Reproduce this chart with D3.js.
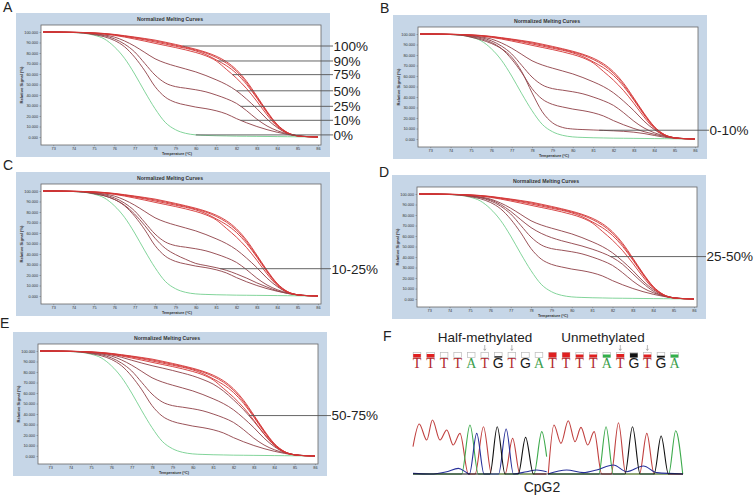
<!DOCTYPE html>
<html>
<head>
<meta charset="utf-8">
<script src="https://cdn.jsdelivr.net/npm/d3@7"></script>
<style>
  body { margin: 0; background: #fff; }
  svg { display: block; font-family: Arial, "Liberation Sans", sans-serif; }
</style>
</head>
<body>
<svg id="fig" width="756" height="497"></svg>
<script>
// ---- melting curves, relative signal (%) every 0.5 °C ----
var temps = [72.5,73,73.5,74,74.5,75,75.5,76,76.5,77,77.5,78,78.5,79,79.5,80,80.5,81,81.5,82,82.5,83,83.5,84,84.5,85,85.5,86];

var std0   = [100,100,99.8,99.5,98.8,97,93.5,86,75,60,43,27,14,7,3.5,2,1.5,1.2,1,0.8,0.7,0.6,0.5,0.4,0.3,0.2,0.1,0];
var std10  = [100,100,99.8,99.5,99,97.5,95.5,92,86,76,63,48,38,33,30.5,28.5,27,25,22,17.5,13.5,10,7,4.5,2.5,1,0.4,0];
var std25  = [100,100,99.8,99.6,99.2,98,96.5,93.5,88.5,81,70,59,51.5,48,46.5,45,43,40,36.5,32,25,17,10.5,6,3,1.2,0.4,0];
var std50  = [100,100,99.8,99.6,99.3,98.5,97.2,95.2,91.5,86.5,80.5,74.5,70.5,67.5,64.8,62,58.5,54.5,50,44,36,27,17,9,3.5,1.2,0.4,0];
var std75  = [100,100,99.8,99.7,99.4,98.8,98,96.8,95.2,93.3,91.3,89.2,87.2,85.2,83,80.5,77.3,72.5,64.5,56,46,34,21,10,3.5,1,0.3,0];
var std90  = [100,100,99.8,99.7,99.5,99,98.3,97.3,95.8,94.2,92.5,90.5,88.5,86.5,84.5,82,78.5,73.5,68,60.5,50,37,23,11,4,1.1,0.3,0];
var std100 = [100,100,99.9,99.7,99.5,99.2,98.6,97.7,96.5,95.2,93.8,92.3,90.3,88.2,86,83.6,80.7,77,71.8,64,53,39,24.5,12,4.3,1.2,0.3,0];
var std100b= [100,100,99.9,99.7,99.5,99.1,98.5,97.5,96.2,94.8,93.2,91.5,89.5,87.4,85.3,82.8,79.9,75.8,70.4,62.6,51.6,38,23.8,11.5,4.1,1.1,0.3,0];

var sampleB = [100,100,99.8,99.5,99,97,94.5,91,86,78,64,44,26,15.5,11,9.5,9,8.6,8.2,7.8,7.3,6.5,5.2,3.4,1.7,0.6,0.2,0];
var sampleC = [100,100,99.8,99.5,99,97.5,95.5,92,86.5,78,67,55,45.5,39.5,35,31,29,27,24.5,21,17,12.5,8.5,5,2.5,1,0.3,0];
var sampleD = [100,100,99.8,99.6,99.2,98.2,96.8,94.5,90,83.5,75.5,68,62.5,58.5,55.5,53,50.5,47.5,44,39.5,33,24,15,7.5,3,1,0.3,0];
var sampleE = [100,100,99.8,99.7,99.4,98.8,97.8,96.3,94,91.2,88.5,86,83.8,81.5,79,76.3,72.8,68.5,62,53.5,44,33,21,10.5,4,1.2,0.3,0];

var xTicks = [73,74,75,76,77,78,79,80,81,82,83,84,85,86];
var yTicks = [0,10,20,30,40,50,60,70,80,90,100];

// ---- panel F: sequence and trace ----
var bases = ['T','T','T','T','A','T','G','T','G','A','T','T','T','T','A','T','G','T','G','A'];
var baseQual = [0.7,0.7,0,0,0,0,0.25,0,0,0, 1,1,0.6,0.6,0.6,0.7,0.85,0.6,0.35,0.6];
var arrowBases = [5,7,15,17];

// trace vertices: [scan, signal]
var redLeft   = [[0,506],[23,926],[51,629],[72,1000],[100,629],[125,814],[149,537],[174,753],[205,0],[230,0],[261,876],[291,0],[341,0],[369,660],[396,0],[495,0]];
var greenLeft = [[0,0],[180,0],[211,907],[242,0],[448,0],[477,784],[495,321]];
var blueLeft  = [[0,12],[63,0],[125,43],[168,105],[199,25],[209,0],[236,753],[263,0],[317,0],[345,833],[372,0],[421,43],[458,74],[495,43]];
var blackLeft = [[0,0],[285,0],[312,876],[341,0],[390,0],[417,679],[446,0],[495,0]];
var redRight   = [[501,0],[522,907],[548,568],[575,987],[600,598],[622,864],[647,537],[671,784],[699,0],[734,0],[761,950],[788,0],[839,0],[866,753],[893,0],[1000,0]];
var greenRight = [[499,0],[688,0],[715,876],[742,0],[947,0],[973,802],[999,0]];
var blueRight  = [[499,0],[569,74],[631,25],[680,74],[742,167],[792,43],[853,148],[903,25],[1000,0]];
var blackRight = [[499,0],[785,0],[813,876],[841,0],[893,0],[919,703],[946,0],[1000,0]];

var curves = {
  std0: std0, std10: std10, std25: std25, std50: std50, std75: std75,
  std90: std90, std100: std100, std100b: std100b,
  sampleB: sampleB, sampleC: sampleC, sampleD: sampleD, sampleE: sampleE
};

var GREEN = '#74cf8e', BROWN = '#8e4046', RED = '#d33333';
var standards = [
  ['std0', GREEN], ['std10', BROWN], ['std25', BROWN], ['std50', BROWN],
  ['std75', RED], ['std90', RED], ['std100b', RED], ['std100', RED]
];

var panels = [
  { id: 'A', x: 16, y: 13, lx: 333, ly: 12, sample: null,
    labels: [['std100',79.35,'100%'],['std90',81.1,'90%'],['std75',81.8,'75%'],['std50',82,'50%'],
             ['std25',82.2,'25%'],['std10',82.2,'10%'],['std0',80,'0%']] },
  { id: 'B', x: 393, y: 15, lx: 709, ly: 13, sample: 'sampleB', labels: [['sampleB',81.3,'0-10%']] },
  { id: 'C', x: 16, y: 172, lx: 331, ly: 170, sample: 'sampleC', labels: [['sampleC',81.2,'10-25%']] },
  { id: 'D', x: 392, y: 175, lx: 706, ly: 177, sample: 'sampleD', labels: [['sampleD',81.9,'25-50%']] },
  { id: 'E', x: 13, y: 332, lx: 331, ly: 328, sample: 'sampleE', labels: [['sampleE',82.75,'50-75%']] }
];

var svg = d3.select('#fig');
var W = 314, H = 144;

function drawPanel(p) {
  var g = svg.append('g');
  g.append('text').attr('x', p.x - 13).attr('y', p.ly).attr('font-size', 14).attr('fill', '#222').text(p.id);

  g.append('rect').attr('x', p.x).attr('y', p.y).attr('width', W).attr('height', H).attr('fill', '#c6d6e7');

  var left = p.x + 25, right = p.x + W - 9, top = p.y + 12, bottom = p.y + H - 12;
  g.append('rect').attr('x', left).attr('y', top).attr('width', right - left).attr('height', bottom - top)
    .attr('fill', '#fff').attr('stroke', '#666').attr('stroke-width', 0.8);

  var x = d3.scaleLinear().domain([72.4, 86.15]).range([left, right]);
  var y = d3.scaleLinear().domain([0, 100]).range([bottom - 8, top + 7]);

  g.append('text').attr('x', p.x + W / 2 - 3).attr('y', p.y + 8).attr('text-anchor', 'middle')
    .attr('font-size', 4.6).attr('font-weight', 'bold').attr('fill', '#333')
    .attr('textLength', 66).attr('lengthAdjust', 'spacingAndGlyphs').text('Normalized Melting Curves');

  var ya = g.append('g').attr('transform', 'translate(' + left + ',0)')
    .call(d3.axisLeft(y).tickValues(yTicks).tickFormat(d3.format('.3f')).tickSize(1.5).tickPadding(1.5));
  var xa = g.append('g').attr('transform', 'translate(0,' + bottom + ')')
    .call(d3.axisBottom(x).tickValues(xTicks).tickFormat(d3.format('d')).tickSize(1.2).tickPadding(0.8));
  [ya, xa].forEach(function (a) {
    a.select('.domain').remove();
    a.attr('font-size', 3.8).attr('font-family', 'Arial, sans-serif');
    a.selectAll('line').attr('stroke', '#666').attr('stroke-width', 0.5);
    a.selectAll('text').attr('fill', '#333');
  });

  g.append('text').attr('x', (left + right) / 2 - 4).attr('y', p.y + H - 1.6).attr('text-anchor', 'middle')
    .attr('font-size', 4.2).attr('font-weight', 'bold').attr('fill', '#333')
    .attr('textLength', 30).attr('lengthAdjust', 'spacingAndGlyphs').text('Temperature (°C)');
  g.append('text').attr('transform', 'translate(' + (p.x + 7) + ',' + ((top + bottom) / 2) + ') rotate(-90)')
    .attr('text-anchor', 'middle').attr('font-size', 4.2).attr('font-weight', 'bold').attr('fill', '#333')
    .attr('textLength', 37).attr('lengthAdjust', 'spacingAndGlyphs').text('Relative Signal (%)');

  var line = d3.line().x(function (d, i) { return x(temps[i]); }).y(function (d) { return y(d); })
    .curve(d3.curveMonotoneX);

  var list = standards.slice(0, 4);
  if (p.sample) list.push([p.sample, BROWN]);
  list = list.concat(standards.slice(4));
  list.forEach(function (c) {
    g.append('path').attr('d', line(curves[c[0]])).attr('fill', 'none')
      .attr('stroke', c[1]).attr('stroke-width', 0.9);
  });

  p.labels.forEach(function (l) {
    var f = d3.scaleLinear().domain(temps).range(curves[l[0]]);
    var ay = y(f(l[1]));
    g.append('line').attr('x1', x(l[1])).attr('x2', p.lx).attr('y1', ay).attr('y2', ay)
      .attr('stroke', '#555').attr('stroke-width', 0.9);
    g.append('text').attr('x', p.lx + 0.5).attr('y', ay).attr('dy', '0.36em')
      .attr('font-size', 13.5).attr('fill', '#222').text(l[2]);
  });
}

panels.forEach(drawPanel);

// ---- panel F ----
var fg = svg.append('g');
fg.append('text').attr('x', 383).attr('y', 341).attr('font-size', 14).attr('fill', '#222').text('F');
fg.append('text').attr('x', 485).attr('y', 342).attr('text-anchor', 'middle').attr('font-size', 13.5).attr('fill', '#222').text('Half-methylated');
fg.append('text').attr('x', 603).attr('y', 342).attr('text-anchor', 'middle').attr('font-size', 13.5).attr('fill', '#222').text('Unmethylated');

var bx = d3.scaleLinear().domain([0, 19]).range([417, 674.5]);
var baseColor = { T: '#b0262c', A: '#3a9e4c', G: '#1a1a1a' };
var qualColor = { T: '#e02020', A: '#33b04a', G: '#111' };

bases.forEach(function (b, i) {
  var cx = bx(i);
  fg.append('rect').attr('x', cx - 3.8).attr('y', 352.5).attr('width', 7.6).attr('height', 5)
    .attr('fill', '#fff').attr('stroke', '#bbb').attr('stroke-width', 0.7);
  if (baseQual[i] > 0) {
    var h = 5 * baseQual[i];
    fg.append('rect').attr('x', cx - 3.8).attr('y', 357.5 - h).attr('width', 7.6).attr('height', h)
      .attr('fill', qualColor[b]);
  }
  fg.append('text').attr('x', cx).attr('y', 368).attr('text-anchor', 'middle')
    .attr('font-size', 14).attr('font-family', b === 'G' ? 'Arial, sans-serif' : '"Liberation Serif", serif')
    .attr('fill', baseColor[b]).text(b);
});

arrowBases.forEach(function (i) {
  var cx = bx(i);
  fg.append('line').attr('x1', cx).attr('x2', cx).attr('y1', 345).attr('y2', 350)
    .attr('stroke', '#888').attr('stroke-width', 0.6);
  fg.append('path').attr('d', 'M' + (cx - 1.2) + ',348.8L' + cx + ',350.6L' + (cx + 1.2) + ',348.8')
    .attr('fill', 'none').attr('stroke', '#888').attr('stroke-width', 0.6);
});

var sx = d3.scaleLinear().domain([0, 1000]).range([413, 683]);
var sy = d3.scaleLinear().domain([0, 1000]).range([474, 420]);
var trace = d3.line().x(function (d) { return sx(d[0]); }).y(function (d) { return sy(d[1]); })
  .curve(d3.curveMonotoneX);

[[redLeft, '#c0403f'], [greenLeft, '#3daa4c'], [blueLeft, '#27309a'], [blackLeft, '#111'],
 [redRight, '#c0403f'], [greenRight, '#3daa4c'], [blueRight, '#27309a'], [blackRight, '#111']]
  .forEach(function (t) {
    fg.append('path').attr('d', trace(t[0])).attr('fill', 'none')
      .attr('stroke', t[1]).attr('stroke-width', 1.1);
  });

fg.append('text').attr('x', 542).attr('y', 492).attr('text-anchor', 'middle').attr('font-size', 14).attr('fill', '#222').text('CpG2');
</script>
</body>
</html>
